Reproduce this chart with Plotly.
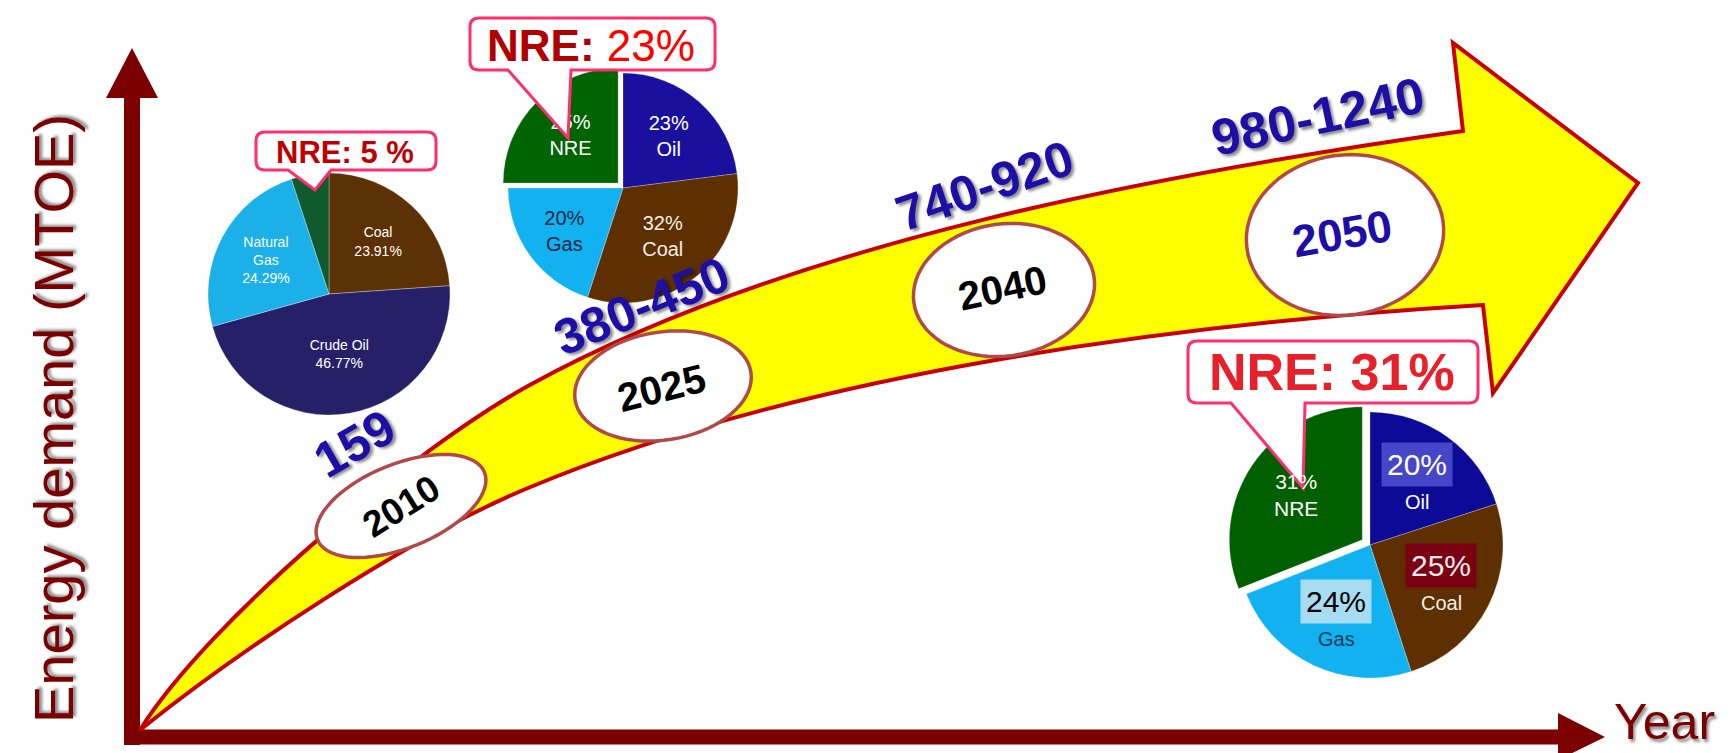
import numpy as np
import plotly.graph_objects as go

W, H = 1733, 753

# ---------------- data ----------------
years = ["2010", "2025", "2040", "2050"]
demand_mtoe = ["159", "380-450", "740-920", "980-1240"]
nre_share = ["5 %", "23%", "31%"]

mix2010_labels = ["Coal", "Crude Oil", "Natural Gas", "NRE"]
mix2010_values = [23.91, 46.77, 24.29, 5.03]

mix2025_labels = ["Oil", "Coal", "Gas", "NRE"]
mix2025_values = [23, 32, 20, 25]

mix2050_labels = ["Oil", "Coal", "Gas", "NRE"]
mix2050_values = [20, 25, 24, 31]

x_title = "Year"
y_title = "Energy demand (MTOE)"

# ---------------- styles ----------------
AXC = "#7B0000"
BLUE = "#1E0EA8"
PINK = "#FF2E6E"
NARROW = "Liberation Sans, Arial, sans-serif"
SANS = "Liberation Sans, Arial, sans-serif"
SHADOW = "2px 3px 3px rgba(0,0,0,0.45)"

fig = go.Figure()
# invisible trace so the pixel-like cartesian axes exist for shapes
fig.add_trace(go.Scatter(x=[0, W], y=[0, H], mode="markers", marker=dict(opacity=0),
                         hoverinfo="skip", showlegend=False))


def dom(cx, cy, R):
    return dict(x=[(cx - R) / W, (cx + R) / W], y=[1 - (cy + R) / H, 1 - (cy - R) / H])


# ---- pie 2010 ----
p1 = dict(cx=321, cy=286, r=121)
txt1 = []
for lab, v in zip(mix2010_labels, mix2010_values):
    if lab == "NRE":
        txt1.append("")
    else:
        txt1.append(lab.replace("Natural ", "Natural<br>") + "<br>" + f"{v:.2f}%")
fig.add_trace(go.Pie(
    labels=mix2010_labels, values=mix2010_values, text=txt1, textinfo="text",
    textposition="inside", insidetextorientation="horizontal",
    sort=False, direction="clockwise", rotation=0,
    marker=dict(colors=["#5C3105", "#252068", "#1BB0E8", "#0F5B2E"],
                line=dict(color="rgba(255,255,255,0.6)", width=0.5)),
    textfont=dict(family=SANS, size=14, color="white"),
    domain=dom(p1["cx"], p1["cy"], p1["r"]), showlegend=False, hoverinfo="label+value",
))

# ---- pie 2025 ----
pull2 = 0.06
p2 = dict(cx=615, cy=180, r=115)
fig.add_trace(go.Pie(
    labels=mix2025_labels, values=mix2025_values,
    texttemplate="%{value}%<br>%{label}", textposition="inside",
    insidetextorientation="horizontal",
    sort=False, direction="clockwise", rotation=0,
    pull=[0, 0, 0, pull2],
    marker=dict(colors=["#19109E", "#5E2F00", "#12B2F0", "#006400"],
                line=dict(color="rgba(255,255,255,0.5)", width=0.5)),
    textfont=dict(family=SANS, size=20, color=["white", "#F2EEE8", "#0B2545", "white"]),
    domain=dom(p2["cx"], p2["cy"], p2["r"] * (1 + pull2)), showlegend=False,
    hoverinfo="label+value",
))

# ---- pie 2050 ----
pull3 = 0.07
p3 = dict(cx=1362, cy=537, r=133)
fig.add_trace(go.Pie(
    labels=mix2050_labels, values=mix2050_values, textinfo="none",
    sort=False, direction="clockwise", rotation=0,
    pull=[0, 0, 0, pull3],
    marker=dict(colors=["#0C0A96", "#5E2F00", "#12B2F0", "#006000"],
                line=dict(color="rgba(255,255,255,0.5)", width=0.5)),
    domain=dom(p3["cx"], p3["cy"], p3["r"] * (1 + pull3)), showlegend=False,
    hoverinfo="label+value",
))

annotations = []

# pie 2050 labels (boxed percentages), positioned from the slice angles
box_bg = {"Oil": "#4646C8", "Coal": "#7A0012", "Gas": "#A8DCF0"}
box_fg = {"Oil": "white", "Coal": "#F4ECEC", "Gas": "black"}
lab_fg = {"Oil": "white", "Coal": "#F2EEE8", "Gas": "#0B3A5A", "NRE": "white"}
tot = sum(mix2050_values)
cum = 0.0
for lab, v in zip(mix2050_labels, mix2050_values):
    mid = np.deg2rad((cum + v / 2) / tot * 360)
    cum += v
    rr = p3["r"] * 0.6 + (p3["r"] * pull3 if lab == "NRE" else 0)
    x = p3["cx"] + rr * np.sin(mid)
    y = p3["cy"] - rr * np.cos(mid)
    if lab == "NRE":
        annotations.append(dict(x=x, y=y, text=f"{v}%<br>{lab}", showarrow=False,
                                font=dict(family=SANS, size=21, color="white")))
    else:
        annotations.append(dict(x=x, y=y - 16, text=f"{v}%", showarrow=False,
                                bgcolor=box_bg[lab], borderpad=5,
                                font=dict(family=SANS, size=30, color=box_fg[lab])))
        annotations.append(dict(x=x, y=y + 22, text=lab, showarrow=False,
                                font=dict(family=SANS, size=20, color=lab_fg[lab])))

shapes = []

# ---- axes arrows ----
shapes.append(dict(type="line", x0=124, y0=737, x1=124, y1=84, line=dict(color=AXC, width=16),
                   layer="below"))
shapes.append(dict(type="path", path="M 124,40 L 98,90 L 150,90 Z", fillcolor=AXC,
                   line=dict(width=0), layer="below"))
shapes.append(dict(type="line", x0=116, y0=729, x1=1554, y1=729, line=dict(color=AXC, width=15),
                   layer="below"))
shapes.append(dict(type="path", path="M 1550,705 L 1597,729 L 1550,752 Z", fillcolor=AXC,
                   line=dict(width=0), layer="below"))

# ---- big curved yellow arrow ----
arrow = ("M 132,722 C 201,612 406,441 520,378 C 783,233 1158,165 1455,123 "
         "L 1445,35 L 1630,175 L 1485,385 L 1475,297 "
         "C 1175,315 797,364 520,480 C 400,530 233,641 132,722 Z")
shapes.append(dict(type="path", path=arrow, fillcolor="#FFFF00",
                   line=dict(color="#C80000", width=4), layer="below"))


# ---- ellipses with years ----
def ellipse_path(cx, cy, a, b, ang, n=72):
    t = np.linspace(0, 2 * np.pi, n, endpoint=False)
    al = np.deg2rad(ang)
    ex, ey = a * np.cos(t), b * np.sin(t)
    X = cx + ex * np.cos(al) + ey * np.sin(al)
    Y = cy - ex * np.sin(al) + ey * np.cos(al)
    return "M " + " L ".join(f"{x:.1f},{y:.1f}" for x, y in zip(X, Y)) + " Z"


ell = [(393, 498, 90, 42, 22), (655, 378, 89, 54, 9), (996, 282, 91, 66, 8), (1337, 227, 99, 80, 8)]
for (cx, cy, a, b, ang) in ell:
    shapes.append(dict(type="path", path=ellipse_path(cx, cy, a, b, ang), fillcolor="white",
                       line=dict(color="#B04A4A", width=3.5), layer="below"))

year_pos = [(393, 498, -32, 37, "black"), (653, 380, -14, 40, "black"),
            (994, 280, -12, 40, "black"), (1334, 225, -10, 45, BLUE)]
for yr, (x, y, ang, sz, col) in zip(years, year_pos):
    annotations.append(dict(x=x, y=y, text=yr, textangle=ang, showarrow=False,
                            font=dict(family=NARROW, size=sz, color=col, weight="bold")))

val_pos = [(346, 436, -30, 50), (634, 298, -22, 50), (977, 178, -19, 50), (1310, 108, -12, 51)]
for dv, (x, y, ang, sz) in zip(demand_mtoe, val_pos):
    annotations.append(dict(x=x, y=y, text=dv, textangle=ang, showarrow=False,
                            font=dict(family=NARROW, size=sz, color=BLUE, weight="bold",
                                      shadow=SHADOW)))


# ---- NRE callouts ----
def callout(x0, y0, x1, y1, px1, px2, tx, ty, r=9):
    return (f"M {x0 + r},{y0} L {x1 - r},{y0} Q {x1},{y0} {x1},{y0 + r} "
            f"L {x1},{y1 - r} Q {x1},{y1} {x1 - r},{y1} L {px2},{y1} L {tx},{ty} "
            f"L {px1},{y1} L {x0 + r},{y1} Q {x0},{y1} {x0},{y1 - r} "
            f"L {x0},{y0 + r} Q {x0},{y0} {x0 + r},{y0} Z")


callouts = [(248, 124, 428, 162, 280, 323, 307, 182),
            (462, 10, 707, 62, 500, 563, 560, 130),
            (1180, 333, 1470, 395, 1223, 1297, 1295, 480)]
for c in callouts:
    shapes.append(dict(type="path", path=callout(*c), fillcolor="white",
                       line=dict(color=PINK, width=3), layer="above"))

annotations.append(dict(x=337, y=144, text="NRE: " + nre_share[0], showarrow=False,
                        font=dict(family=NARROW, size=31, color="#C00000", weight="bold")))
annotations.append(dict(x=583, y=37,
                        text="<b>NRE:</b> <span style='color:#FF0000'>" + nre_share[1] + "</span>",
                        showarrow=False,
                        font=dict(family=NARROW, size=44, color="#B00000")))
annotations.append(dict(x=1324, y=364, text="NRE: " + nre_share[2], showarrow=False,
                        font=dict(family=SANS, size=52, color="#E8202A", weight="bold")))

# ---- axis titles ----
annotations.append(dict(x=45, y=411, text=y_title, textangle=-90, showarrow=False,
                        font=dict(family=NARROW, size=56, color=AXC, shadow=SHADOW)))
annotations.append(dict(x=1656, y=714, text=x_title, showarrow=False,
                        font=dict(family=NARROW, size=50, color=AXC, shadow=SHADOW)))

for a in annotations:
    a.setdefault("xref", "x")
    a.setdefault("yref", "y")
    a.setdefault("xanchor", "center")
    a.setdefault("yanchor", "middle")
for s in shapes:
    s.setdefault("xref", "x")
    s.setdefault("yref", "y")

fig.update_layout(
    width=W, height=H, margin=dict(l=0, r=0, t=0, b=0),
    paper_bgcolor="white", plot_bgcolor="white",
    xaxis=dict(range=[0, W], visible=False, fixedrange=True),
    yaxis=dict(range=[H, 0], visible=False, fixedrange=True),
    shapes=shapes, annotations=annotations, showlegend=False,
)

fig.write_html("out.html")
